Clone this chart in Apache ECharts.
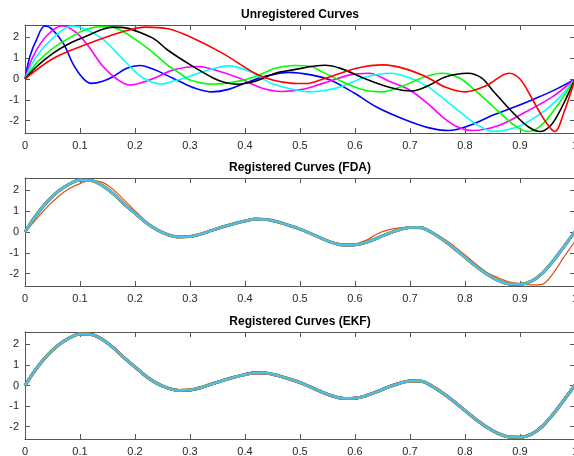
<!DOCTYPE html>
<html>
<head>
<meta charset="utf-8">
<script src="https://cdn.jsdelivr.net/npm/echarts@6/dist/echarts.min.js"></script>
<style>
html,body{margin:0;padding:0;background:#fff;}
#c{width:574px;height:456px;}
</style>
</head>
<body>
<div id="c"></div>
<script>
// ---- data ----
const titles = ['Unregistered Curves', 'Registered Curves (FDA)', 'Registered Curves (EKF)'];
const xTicks = [0, 0.1, 0.2, 0.3, 0.4, 0.5, 0.6, 0.7, 0.8, 0.9, 1];
const yTicks = [-2, -1, 0, 1, 2];

// Unregistered curves: [t, value] pairs
const blueCurve = [[0,0],[0.009,1.1],[0.021,1.9],[0.036,2.55],[0.05,2.38],[0.07,1.7],[0.088,0.69],[0.106,0.02],[0.121,-0.21],[0.14,-0.12],[0.16,0.11],[0.185,0.52],[0.209,0.65],[0.236,0.44],[0.26,0.15],[0.28,-0.1],[0.31,-0.45],[0.34,-0.62],[0.37,-0.5],[0.4,-0.2],[0.44,0.15],[0.48,0.32],[0.52,0.2],[0.555,-0.05],[0.6,-0.7],[0.64,-1.36],[0.69,-1.95],[0.733,-2.34],[0.77,-2.48],[0.81,-2.22],[0.849,-1.76],[0.89,-1.35],[0.927,-0.95],[0.965,-0.5],[1,0]];
const magentaCurve = [[0,0],[0.015,1.1],[0.039,2.07],[0.067,2.55],[0.09,2.3],[0.112,1.7],[0.142,0.6],[0.167,0.0],[0.191,-0.29],[0.215,-0.15],[0.24,0.1],[0.27,0.44],[0.315,0.6],[0.35,0.4],[0.388,0.06],[0.43,-0.43],[0.467,-0.6],[0.505,-0.5],[0.542,-0.21],[0.591,0.2],[0.625,0.28],[0.664,-0.13],[0.7,-0.54],[0.733,-1.2],[0.764,-1.93],[0.79,-2.35],[0.813,-2.48],[0.86,-2.25],[0.909,-1.6],[0.958,-0.87],[1,0]];
const cyanCurve = [[0,0],[0.021,1.09],[0.052,2.0],[0.085,2.55],[0.11,2.4],[0.142,1.91],[0.173,1.09],[0.203,0.28],[0.225,-0.1],[0.247,-0.24],[0.27,-0.1],[0.297,0.11],[0.34,0.48],[0.37,0.63],[0.41,0.35],[0.448,-0.21],[0.487,-0.5],[0.518,-0.62],[0.545,-0.55],[0.573,-0.38],[0.621,0.11],[0.664,0.28],[0.7,0.05],[0.733,-0.38],[0.788,-1.52],[0.82,-2.17],[0.852,-2.52],[0.9,-2.25],[0.945,-1.52],[0.975,-0.8],[1,0]];
const greenCurve = [[0,0],[0.021,0.77],[0.052,1.5],[0.082,2.0],[0.112,2.4],[0.14,2.52],[0.17,2.4],[0.209,1.75],[0.236,1.2],[0.258,0.69],[0.28,0.3],[0.3,-0.05],[0.342,-0.25],[0.38,-0.15],[0.418,0.11],[0.455,0.52],[0.49,0.65],[0.52,0.6],[0.542,0.32],[0.591,-0.3],[0.62,-0.55],[0.648,-0.62],[0.69,-0.3],[0.727,0.11],[0.758,0.28],[0.79,0.05],[0.818,-0.54],[0.85,-1.3],[0.879,-2.0],[0.9,-2.4],[0.916,-2.53],[0.94,-2.2],[0.97,-1.2],[1,0]];
const blackCurve = [[0,0],[0.021,0.6],[0.052,1.26],[0.08,1.7],[0.112,2.07],[0.14,2.38],[0.16,2.5],[0.185,2.45],[0.209,2.24],[0.236,1.91],[0.258,1.42],[0.3,0.69],[0.342,0.05],[0.365,-0.18],[0.385,-0.25],[0.42,-0.1],[0.455,0.28],[0.487,0.44],[0.545,0.66],[0.575,0.5],[0.615,0.05],[0.664,-0.41],[0.703,-0.58],[0.735,-0.3],[0.764,0.1],[0.805,0.28],[0.83,0.05],[0.852,-0.6],[0.89,-1.7],[0.915,-2.3],[0.936,-2.53],[0.957,-2.2],[0.976,-1.36],[1,0]];
const redCurve = [[0,0],[0.052,1.0],[0.112,1.67],[0.173,2.24],[0.22,2.5],[0.26,2.42],[0.297,2.07],[0.358,1.26],[0.418,0.28],[0.45,-0.05],[0.487,-0.21],[0.51,-0.22],[0.542,0.0],[0.603,0.52],[0.652,0.68],[0.69,0.5],[0.73,0.1],[0.765,-0.4],[0.8,-0.62],[0.84,-0.3],[0.88,0.28],[0.9,0.0],[0.922,-0.95],[0.945,-2.0],[0.963,-2.53],[0.98,-1.6],[1,0]];

// Registered curves sampled on a common grid
const xGrid = [0,0.02,0.04,0.06,0.08,0.1,0.12,0.14,0.16,0.18,0.2,0.22,0.24,0.26,0.28,0.3,0.32,0.34,0.36,0.38,0.4,0.42,0.44,0.46,0.48,0.5,0.52,0.54,0.56,0.58,0.6,0.62,0.64,0.66,0.68,0.7,0.72,0.74,0.76,0.78,0.8,0.82,0.84,0.86,0.88,0.9,0.92,0.94,0.96,0.98,1];
const registered = [0,0.8,1.45,1.95,2.3,2.5,2.48,2.25,1.85,1.35,0.9,0.45,0.1,-0.13,-0.24,-0.22,-0.1,0.08,0.25,0.4,0.53,0.62,0.6,0.48,0.32,0.14,-0.08,-0.32,-0.52,-0.63,-0.62,-0.5,-0.3,-0.08,0.1,0.22,0.21,-0.03,-0.38,-0.78,-1.22,-1.65,-2.03,-2.33,-2.5,-2.52,-2.38,-2.0,-1.4,-0.7,0.02];
const fdaOrange = [0,0.6,1.2,1.7,2.08,2.33,2.48,2.4,2.05,1.55,1.02,0.52,0.14,-0.1,-0.22,-0.22,-0.12,0.05,0.22,0.38,0.52,0.6,0.62,0.52,0.35,0.15,-0.06,-0.3,-0.5,-0.6,-0.58,-0.4,-0.1,0.1,0.2,0.24,0.18,-0.02,-0.3,-0.68,-1.1,-1.55,-1.95,-2.2,-2.4,-2.5,-2.55,-2.52,-2.0,-1.2,-0.45];

// ---- chart ----
const FONT = 'Liberation Sans, Arial, Helvetica, sans-serif';
const axisCol = '#555555';
const grids = [
  {left: 25, top: 25, width: 550, height: 108, outerBoundsMode: 'none', containLabel: false},
  {left: 25, top: 178, width: 550, height: 108, outerBoundsMode: 'none', containLabel: false},
  {left: 25, top: 332, width: 550, height: 107, outerBoundsMode: 'none', containLabel: false}
];
const titleTops = [9, 162, 316];

const xAxes = [], yAxes = [];
grids.forEach((g, i) => {
  xAxes.push({
    type: 'value', gridIndex: i, min: 0, max: 1, interval: 0.1, position: 'bottom',
    axisLine: {show: true, onZero: false, lineStyle: {color: axisCol, width: 1}},
    axisTick: {show: true, inside: true, length: 5, lineStyle: {color: axisCol}},
    axisLabel: {show: true, color: '#262626', fontSize: 11, fontFamily: FONT, margin: 7,
      hideOverlap: false,
      formatter: v => String(Math.round(v * 10) / 10)},
    splitLine: {show: false}
  });
  xAxes.push({
    type: 'value', gridIndex: i, min: 0, max: 1, interval: 0.1, position: 'top',
    axisLine: {show: true, onZero: false, lineStyle: {color: axisCol, width: 1}},
    axisTick: {show: true, inside: true, length: 5, lineStyle: {color: axisCol}},
    axisLabel: {show: false}, splitLine: {show: false}
  });
  yAxes.push({
    type: 'value', gridIndex: i, min: -2.6, max: 2.6, position: 'left',
    axisLine: {show: true, onZero: false, lineStyle: {color: axisCol, width: 1}},
    axisTick: {show: true, inside: true, length: 5, customValues: yTicks, lineStyle: {color: axisCol}},
    axisLabel: {show: true, customValues: yTicks, color: '#262626', fontSize: 11, fontFamily: FONT, margin: 6},
    splitLine: {show: false}
  });
  yAxes.push({
    type: 'value', gridIndex: i, min: -2.6, max: 2.6, position: 'right',
    axisLine: {show: true, onZero: false, lineStyle: {color: axisCol, width: 1}},
    axisTick: {show: true, inside: true, length: 5, customValues: yTicks, lineStyle: {color: axisCol}},
    axisLabel: {show: false}, splitLine: {show: false}
  });
});

function line(data, color, gi, width) {
  return {
    type: 'line', xAxisIndex: gi * 2, yAxisIndex: gi * 2, data: data,
    showSymbol: false, smooth: 0.35, animation: false,
    lineStyle: {color: color, width: width}, itemStyle: {color: color}
  };
}
const onGrid = arr => xGrid.map((x, i) => [x, arr[i]]);

const series = [
  line(blueCurve, '#0000ff', 0, 1.6),
  line(magentaCurve, '#ff00ff', 0, 1.6),
  line(cyanCurve, '#00ffff', 0, 1.6),
  line(greenCurve, '#00ff00', 0, 1.6),
  line(blackCurve, '#000000', 0, 1.6),
  line(redCurve, '#ff0000', 0, 1.6),

  line(onGrid(registered), '#0072BD', 1, 3),
  line(onGrid(fdaOrange), '#D95319', 1, 1.2),
  line(onGrid(registered), '#EDB120', 1, 2.8),
  line(onGrid(registered), '#7E2F8E', 1, 2.6),
  line(onGrid(registered), '#77AC30', 1, 2.6),
  line(onGrid(registered), '#4DBEEE', 1, 2.2),

  line(onGrid(registered), '#0072BD', 2, 3),
  line(onGrid(registered), '#D95319', 2, 3),
  line(onGrid(registered), '#EDB120', 2, 2.9),
  line(onGrid(registered), '#7E2F8E', 2, 2.8),
  line(onGrid(registered), '#77AC30', 2, 2.7),
  line(onGrid(registered), '#4DBEEE', 2, 2.2)
];

const chart = echarts.init(document.getElementById('c'), null, {renderer: 'canvas'});
chart.setOption({
  animation: false,
  backgroundColor: '#ffffff',
  title: titles.map((t, i) => ({
    text: t, left: 300, top: titleTops[i], textAlign: 'center', padding: 0,
    textStyle: {fontSize: 12, fontWeight: 'bold', color: '#000', fontFamily: FONT}
  })),
  grid: grids,
  xAxis: xAxes,
  yAxis: yAxes,
  series: series
});
</script>
</body>
</html>
